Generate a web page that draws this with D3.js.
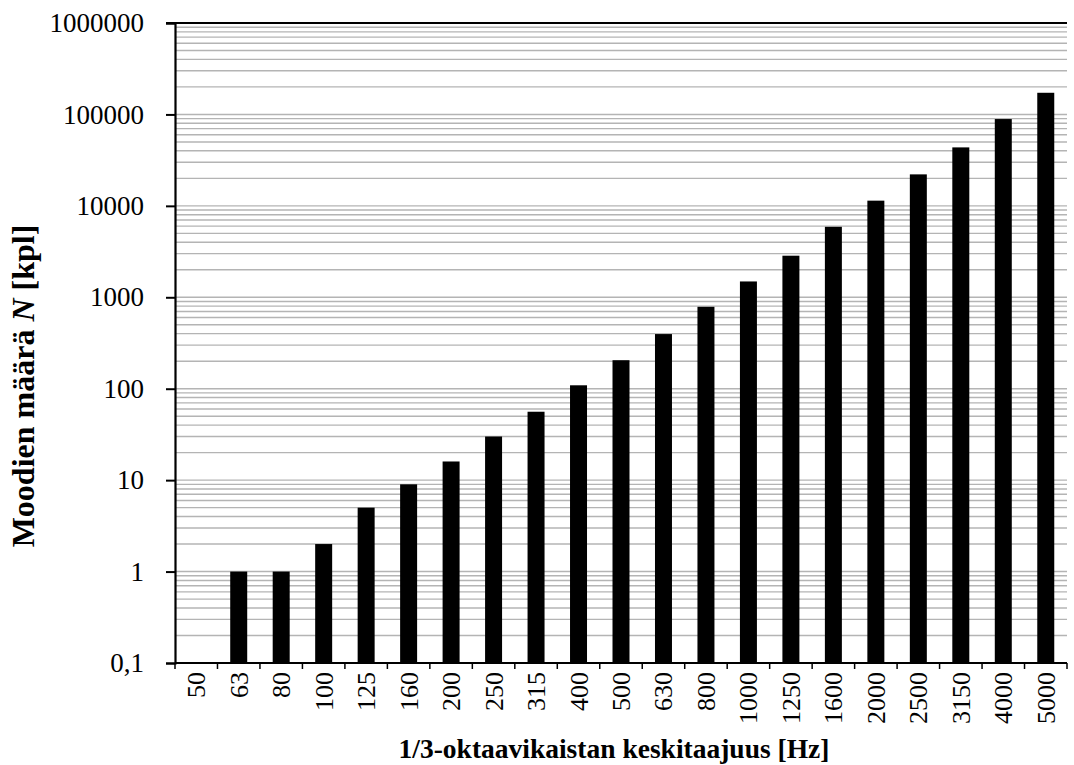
<!DOCTYPE html>
<html>
<head>
<meta charset="utf-8">
<script src="https://cdn.jsdelivr.net/npm/d3@7"></script>
<style>
  html, body { margin: 0; padding: 0; background: #fff; }
  svg { display: block; }
  text { font-family: "Liberation Serif", "Times New Roman", serif; fill: #000; }
</style>
</head>
<body>
<svg id="chart" width="1074" height="765"></svg>
<script>
// 1/3-octave band centre frequencies (Hz)
const bands = ["50","63","80","100","125","160","200","250","315","400","500","630","800","1000","1250","1600","2000","2500","3150","4000","5000"];
// Number of modes per band (null = no modes in band)
const modeCounts = [null, 1, 1, 2, 5, 9, 16, 30, 56, 109, 205, 396, 787, 1490, 2850, 5900, 11400, 22100, 43600, 89000, 172500];
// Decade labels on the log axis
const yTickValues = [0.1, 1, 10, 100, 1000, 10000, 100000, 1000000];
const yTickLabels = ["0,1", "1", "10", "100", "1000", "10000", "100000", "1000000"];

const svg = d3.select("#chart");
const margin = { left: 175, right: 7, top: 23, bottom: 102 };
const W = 1074, H = 765;
const x0 = margin.left, x1 = W - margin.right;
const y0 = H - margin.bottom, y1 = margin.top;

const x = d3.scaleBand().domain(bands).range([x0, x1]).paddingInner(0.6).paddingOuter(0.3);
const xBand = d3.scaleBand().domain(bands).range([x0, x1]).padding(0);
const y = d3.scaleLog().domain([0.1, 1000000]).range([y0, y1]);

// Horizontal grid lines at every 1..9 step within each decade
const gridVals = [];
for (let e = -1; e < 6; e++) {
  for (let m = 1; m <= 9; m++) gridVals.push(m * Math.pow(10, e));
}
svg.append("g")
  .selectAll("line")
  .data(gridVals)
  .join("line")
  .attr("x1", x0).attr("x2", x1)
  .attr("y1", d => y(d)).attr("y2", d => y(d))
  .attr("stroke", "#b4b4b4")
  .attr("stroke-width", 1.4);

// Bars
const barData = bands.map((b, i) => ({ band: b, value: modeCounts[i] })).filter(d => d.value != null);
svg.append("g")
  .selectAll("rect")
  .data(barData)
  .join("rect")
  .attr("x", d => x(d.band))
  .attr("width", x.bandwidth())
  .attr("y", d => y(d.value))
  .attr("height", d => y0 - y(d.value))
  .attr("fill", "#000");

// Top border
svg.append("line")
  .attr("x1", x0 - 9).attr("x2", x1)
  .attr("y1", y1).attr("y2", y1)
  .attr("stroke", "#000").attr("stroke-width", 2);

// Y axis
const yAxis = d3.axisLeft(y)
  .tickValues(yTickValues)
  .tickFormat((d, i) => yTickLabels[i])
  .tickSize(9)
  .tickPadding(22);
const gy = svg.append("g").attr("transform", `translate(${x0},0)`).call(yAxis);
gy.select(".domain").attr("stroke", "#000").attr("stroke-width", 2.2);
gy.selectAll(".tick line").attr("stroke", "#000").attr("stroke-width", 2);
gy.selectAll(".tick text")
  .style("font-family", "'Liberation Serif', 'Times New Roman', serif")
  .style("font-size", "27px")
  .attr("fill", "#000");

// X axis: ticks on band boundaries
const gx = svg.append("g").attr("transform", `translate(0,${y0})`);
gx.append("line")
  .attr("x1", x0).attr("x2", x1)
  .attr("stroke", "#000").attr("stroke-width", 2.2);
const boundaries = bands.map(b => xBand(b)).concat([xBand(bands[bands.length - 1]) + xBand.bandwidth()]);
gx.selectAll("line.tk")
  .data(boundaries)
  .join("line")
  .attr("class", "tk")
  .attr("x1", d => d).attr("x2", d => d)
  .attr("y1", 0).attr("y2", 6)
  .attr("stroke", "#000").attr("stroke-width", 1.5);
gx.selectAll("text.lbl")
  .data(bands)
  .join("text")
  .attr("class", "lbl")
  .attr("transform", d => `translate(${xBand(d) + xBand.bandwidth() / 2 + 9},9) rotate(-90)`)
  .attr("text-anchor", "end")
  .style("font-size", "26px")
  .text(d => d);

// Axis titles
svg.append("text")
  .attr("x", (x0 + x1) / 2 - 7)
  .attr("y", 758)
  .attr("text-anchor", "middle")
  .style("font-size", "27.5px")
  .style("font-weight", "bold")
  .text("1/3-oktaavikaistan keskitaajuus [Hz]");

const yt = svg.append("text")
  .attr("transform", "translate(34,386) rotate(-90)")
  .attr("text-anchor", "middle")
  .style("font-size", "32px")
  .style("font-weight", "bold");
yt.append("tspan").text("Moodien määrä ");
yt.append("tspan").style("font-style", "italic").text("N");
yt.append("tspan").text(" [kpl]");
</script>
</body>
</html>
